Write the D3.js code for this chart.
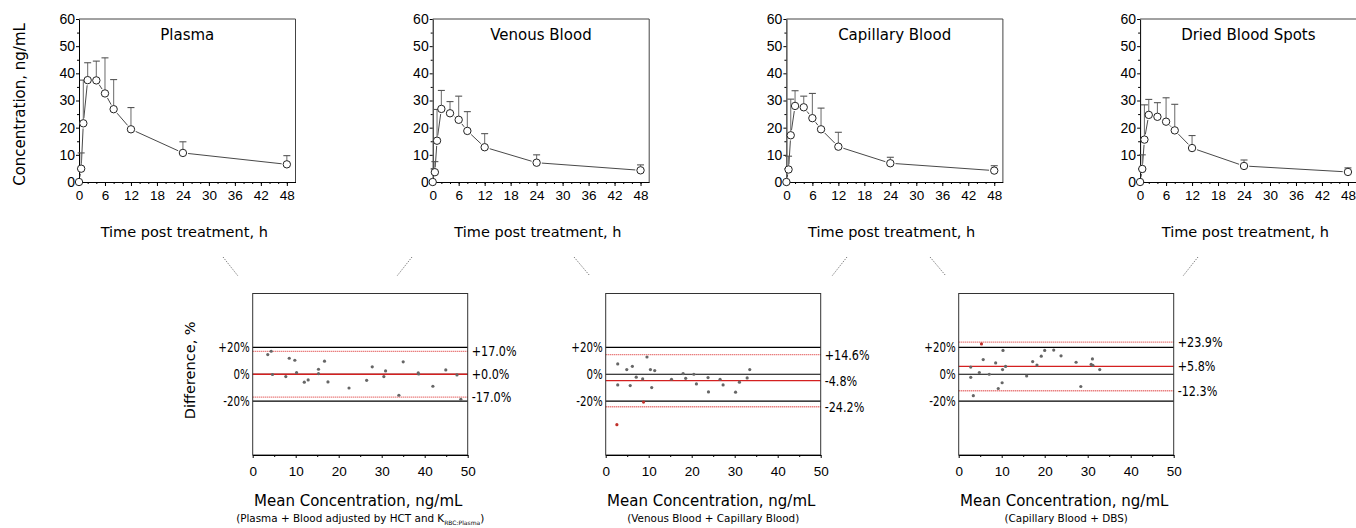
<!DOCTYPE html>
<html>
<head>
<meta charset="utf-8">
<script src="https://cdn.jsdelivr.net/npm/d3@7"></script>
<style>
  body { margin: 0; background: #fff; }
  svg { display: block; font-family: "DejaVu Sans", Verdana, sans-serif; }
</style>
</head>
<body>
<svg id="chart" width="1356" height="528"></svg>
<script>
// ---- Concentration-time profiles (mean + SD) ----
const times = [0, 0.5, 1, 2, 4, 6, 8, 12, 24, 48];
const matrixNames = ["Plasma", "Venous Blood", "Capillary Blood", "Dried Blood Spots"];
const plasmaMean    = [0, 4.9, 21.6, 37.5, 37.4, 32.6, 26.8, 19.4, 10.7, 6.5];
const plasmaSD      = [0, 5.8, 15.9, 6.4, 7.1, 13.1, 10.9, 8.0, 4.1, 3.2];
const venousMean    = [0, 3.6, 15.2, 26.9, 25.3, 22.9, 18.8, 12.8, 7.1, 4.3];
const venousSD      = [0, 3.9, 11.5, 6.8, 4.3, 8.7, 7.1, 5.0, 2.9, 2.0];
const capillaryMean = [0, 4.6, 17.2, 28.0, 27.5, 23.5, 19.4, 13.0, 6.9, 4.2];
const capillarySD   = [0, 4.9, 13.3, 5.6, 4.1, 9.1, 7.8, 5.3, 2.2, 1.8];
const dbsMean       = [0, 4.8, 15.6, 24.7, 24.0, 22.2, 19.0, 12.5, 5.9, 3.7];
const dbsSD         = [0, 5.2, 12.8, 5.7, 5.2, 8.8, 9.6, 4.6, 2.2, 1.5];
const timeTicks = [0, 6, 12, 18, 24, 30, 36, 42, 48];
const concTicks = [0, 10, 20, 30, 40, 50, 60];

// ---- Bland-Altman comparisons ----
const baSubtitles = [
  ["(Plasma + Blood adjusted by HCT and K", "RBC:Plasma", ")"],
  ["(Venous Blood + Capillary Blood)", "", ""],
  ["(Capillary Blood + DBS)", "", ""]
];
const plasmaBloodAvg  = [3.5, 4.3, 4.6, 7.7, 8.5, 9.8, 10.2, 12.0, 12.9, 15.3, 15.3, 16.7, 17.5, 22.4, 26.5, 27.8, 30.5, 30.9, 34.0, 35.0, 38.5, 38.6, 41.9, 44.9, 47.5, 48.4];
const plasmaBloodDiff = [14.6, 17.1, -0.2, -1.7, 11.9, 10.4, 1.2, -5.9, -4.2, 3.7, 0.5, 9.7, -5.7, -10.2, -4.5, 5.5, -1.7, 2.5, -15.6, 9.2, 1.0, 0.2, -8.9, 3.2, -0.5, -18.6];
const venCapAvg  = [2.8, 2.8, 2.6, 4.9, 5.7, 6.2, 7.1, 8.6, 8.8, 9.6, 10.4, 10.7, 11.4, 15.3, 18.0, 18.6, 20.5, 21.1, 23.8, 23.9, 26.6, 27.3, 30.2, 31.1, 32.9, 33.5];
const venCapDiff = [7.7, -7.9, -37.5, 3.5, -8.4, 5.9, -2.2, -3.5, -20.7, 12.8, 3.5, -9.9, 2.7, -3.7, 0.5, -3.0, 0.0, -7.2, -2.5, -13.1, -3.7, -7.9, -13.3, -5.9, -2.7, 3.5];
const capDbsAvg  = [2.8, 2.8, 3.4, 4.8, 5.3, 5.7, 7.1, 8.6, 9.2, 10.1, 10.2, 10.3, 10.9, 15.8, 17.2, 18.2, 19.2, 20.0, 22.1, 23.8, 27.3, 28.4, 30.8, 31.1, 31.2, 32.8];
const capDbsDiff = [5.3, -2.3, -15.9, 1.3, 22.5, 10.9, 0.0, 8.4, -10.6, -6.3, 3.5, 17.7, 5.8, -1.3, 9.4, 6.8, 13.4, 17.7, 18.0, 13.7, 8.9, -9.1, 7.3, 11.4, 6.6, 3.5];
const baBias  = [0.0, -4.8, 5.8];
const baUpper = [17.0, 14.6, 23.9];
const baLower = [-17.0, -24.2, -12.3];
const acceptLimits = [20, 0, -20];
const diffTickLabels = ["+20%", "0%", "-20%"];
const avgTicks = [0, 10, 20, 30, 40, 50];

const profiles = [
  { name: matrixNames[0], mean: plasmaMean, sd: plasmaSD },
  { name: matrixNames[1], mean: venousMean, sd: venousSD },
  { name: matrixNames[2], mean: capillaryMean, sd: capillarySD },
  { name: matrixNames[3], mean: dbsMean, sd: dbsSD }
];
const comparisons = [
  { avg: plasmaBloodAvg, diff: plasmaBloodDiff },
  { avg: venCapAvg, diff: venCapDiff },
  { avg: capDbsAvg, diff: capDbsDiff }
];

const svg = d3.select("#chart");
const ink = "#000";

// ---------- top row: PK profiles ----------
const topRow = { left: 79, step: 353.7, width: 216.5, y0: 19, y1: 182 };
const yConc = d3.scaleLinear().domain([0, 60]).range([topRow.y1, topRow.y0]);
const R = 3.7;

profiles.forEach((p, i) => {
  const x0 = topRow.left + i * topRow.step;
  const x = d3.scaleLinear().domain([0, 50]).range([x0, x0 + topRow.width]);
  const g = svg.append("g");

  // frame (top + right)
  g.append("path")
    .attr("d", `M${x0},${topRow.y0}H${x0 + topRow.width}V${topRow.y1}`)
    .attr("fill", "none").attr("stroke", "#444").attr("stroke-width", 1);

  // minor ticks
  g.append("g").attr("transform", `translate(0,${topRow.y1})`)
    .call(d3.axisBottom(x).tickValues(d3.range(0, 50, 2)).tickSize(2).tickSizeOuter(0).tickFormat(""))
    .call(a => a.select(".domain").remove());
  g.append("g").attr("transform", `translate(${x0},0)`)
    .call(d3.axisLeft(yConc).tickValues(d3.range(5, 60, 10)).tickSize(2).tickFormat(""))
    .call(a => a.select(".domain").remove());

  // main axes
  const xa = g.append("g").attr("transform", `translate(0,${topRow.y1})`)
    .call(d3.axisBottom(x).tickValues(timeTicks).tickSize(4).tickPadding(4).tickSizeOuter(0));
  xa.selectAll("text").attr("font-size", 13.5).attr("fill", ink).attr("font-family", null);
  const ya = g.append("g").attr("transform", `translate(${x0},0)`)
    .call(d3.axisLeft(yConc).tickValues(concTicks).tickSize(3).tickPadding(1).tickSizeOuter(0));
  ya.selectAll("text").attr("font-size", 14).attr("fill", ink).attr("font-family", null);
  g.selectAll(".domain, .tick line").attr("stroke", ink);

  // title
  g.append("text").attr("x", x0 + topRow.width / 2).attr("y", 40)
    .attr("text-anchor", "middle").attr("font-size", 15).attr("fill", ink).text(p.name);

  // x label
  g.append("text").attr("x", x0 + topRow.width / 2 - 3).attr("y", 237)
    .attr("text-anchor", "middle").attr("font-size", 14.5).attr("fill", ink).text("Time post treatment, h");

  const pts = times.map((t, k) => ({ t, m: p.mean[k], s: p.sd[k] }));

  // connecting segments with a gap around each marker
  const segs = d3.pairs(pts).map(([a, b]) => {
    const ax = x(a.t), ay = yConc(a.m), bx = x(b.t), by = yConc(b.m);
    const len = Math.hypot(bx - ax, by - ay), gap = R + 1.5;
    if (len <= 2 * gap) return null;
    const ux = (bx - ax) / len, uy = (by - ay) / len;
    return [ax + ux * gap, ay + uy * gap, bx - ux * gap, by - uy * gap];
  }).filter(Boolean);
  g.selectAll(".seg").data(segs).join("line")
    .attr("x1", d => d[0]).attr("y1", d => d[1]).attr("x2", d => d[2]).attr("y2", d => d[3])
    .attr("stroke", "#333").attr("stroke-width", 0.9);

  // upper SD bars
  const eb = g.selectAll(".eb").data(pts.filter(d => d.s > 0)).join("g");
  eb.append("line")
    .attr("x1", d => x(d.t)).attr("x2", d => x(d.t))
    .attr("y1", d => yConc(d.m) - R).attr("y2", d => Math.min(yConc(d.m + d.s), yConc(d.m) - R))
    .attr("stroke", "#777").attr("stroke-width", 1.1);
  eb.append("line")
    .attr("x1", d => x(d.t) - 3.5).attr("x2", d => x(d.t) + 3.5)
    .attr("y1", d => yConc(d.m + d.s)).attr("y2", d => yConc(d.m + d.s))
    .attr("stroke", "#555").attr("stroke-width", 1.1);

  // markers
  g.selectAll(".pt").data(pts).join("circle")
    .attr("cx", d => x(d.t)).attr("cy", d => yConc(d.m)).attr("r", R)
    .attr("fill", "#fff").attr("stroke", "#222").attr("stroke-width", 1);
});

// y label for the profiles
svg.append("text")
  .attr("transform", `translate(25,${(topRow.y0 + topRow.y1) / 2 + 4}) rotate(-90)`)
  .attr("text-anchor", "middle").attr("font-size", 15).attr("fill", ink)
  .text("Concentration, ng/mL");

// ---------- dotted connectors between rows ----------
const connectors = [
  [223, 257, 238, 276], [412, 257, 397, 276],
  [574, 257, 590, 276], [847, 257, 832, 276],
  [930, 257, 946, 276], [1198, 257, 1183, 276]
];
svg.selectAll(".conn").data(connectors).join("line")
  .attr("x1", d => d[0]).attr("y1", d => d[1]).attr("x2", d => d[2]).attr("y2", d => d[3])
  .attr("stroke", "#555").attr("stroke-width", 1).attr("stroke-dasharray", "1,1.5");

// ---------- bottom row: Bland-Altman ----------
const botRow = { left: 252.7, step: 353, width: 215, y0: 293.5, y1: 455 };
const yDiff = d3.scaleLinear().domain([-60, 60]).range([botRow.y1, botRow.y0]);
const red = "#d42020";
const fmtPct = v => (v >= 0 ? "+" : "-") + Math.abs(v).toFixed(1) + "%";

comparisons.forEach((c, i) => {
  const x0 = botRow.left + i * botRow.step;
  const x = d3.scaleLinear().domain([0, 50]).range([x0, x0 + botRow.width]);
  const g = svg.append("g");

  // acceptance limits
  g.selectAll(".lim").data(acceptLimits).join("line")
    .attr("x1", x0).attr("x2", x0 + botRow.width)
    .attr("y1", d => yDiff(d)).attr("y2", d => yDiff(d))
    .attr("stroke", ink).attr("stroke-width", 1.1);

  // limits of agreement
  g.selectAll(".loa").data([baUpper[i], baLower[i]]).join("line")
    .attr("x1", x0).attr("x2", x0 + botRow.width)
    .attr("y1", d => yDiff(d)).attr("y2", d => yDiff(d))
    .attr("stroke", "#e04848").attr("stroke-width", 1.4).attr("stroke-dasharray", "1,1");

  // bias
  g.append("line")
    .attr("x1", x0).attr("x2", x0 + botRow.width)
    .attr("y1", yDiff(baBias[i])).attr("y2", yDiff(baBias[i]))
    .attr("stroke", red).attr("stroke-width", 1.3);

  // frame
  g.append("rect").attr("x", x0).attr("y", botRow.y0)
    .attr("width", botRow.width).attr("height", botRow.y1 - botRow.y0)
    .attr("fill", "none").attr("stroke", "#333").attr("stroke-width", 1);

  // x axis
  g.append("g").attr("transform", `translate(0,${botRow.y1})`)
    .call(d3.axisBottom(x).tickValues(d3.range(5, 50, 10)).tickSize(2).tickFormat(""))
    .call(a => a.select(".domain").remove());
  const xa = g.append("g").attr("transform", `translate(0,${botRow.y1})`)
    .call(d3.axisBottom(x).tickValues(avgTicks).tickSize(3).tickPadding(8).tickSizeOuter(0));
  xa.selectAll("text").attr("font-size", 13.5).attr("fill", ink).attr("font-family", null);
  g.selectAll(".domain, .tick line").attr("stroke", ink);

  // left labels for the acceptance limits
  g.selectAll(".ll").data(acceptLimits).join("text")
    .attr("transform", d => `translate(${x0 - 3},${yDiff(d)}) scale(0.76,1)`)
    .attr("dy", "0.36em").attr("text-anchor", "end")
    .attr("font-size", 13.5).attr("fill", ink)
    .text((d, k) => diffTickLabels[k]);

  // right labels for bias and limits of agreement
  g.selectAll(".rl").data([baUpper[i], baBias[i], baLower[i]]).join("text")
    .attr("transform", d => `translate(${x0 + botRow.width + 4},${yDiff(d)}) scale(0.8,1)`)
    .attr("dy", "0.36em").attr("font-size", 14).attr("fill", ink)
    .text(d => fmtPct(d));

  // points
  const pts = c.avg.map((a, k) => ({ a, d: c.diff[k] }));
  g.selectAll(".pt").data(pts).join("circle")
    .attr("cx", d => x(d.a)).attr("cy", d => yDiff(d.d)).attr("r", 1.6)
    .attr("fill", d => Math.abs(d.d) > 20 ? "#c0302a" : "#666");

  // axis title and subtitle
  g.append("text").attr("x", x0 + botRow.width / 2 - 2).attr("y", 506)
    .attr("text-anchor", "middle").attr("font-size", 15).attr("fill", ink)
    .text("Mean Concentration, ng/mL");
  const sub = g.append("text").attr("x", x0 + botRow.width / 2).attr("y", 522)
    .attr("text-anchor", "middle").attr("font-size", 10.4).attr("fill", ink);
  const [s0, s1, s2] = baSubtitles[i];
  sub.append("tspan").text(s0);
  if (s1) {
    sub.append("tspan").attr("font-size", 6).attr("dy", 2.5).text(s1);
    sub.append("tspan").attr("dy", -2.5).text(s2);
  }
});

// y label for the comparisons
svg.append("text")
  .attr("transform", `translate(195,${yDiff(0) - 4}) rotate(-90)`)
  .attr("text-anchor", "middle").attr("font-size", 14.5).attr("fill", ink)
  .text("Difference, %");
</script>
</body>
</html>
